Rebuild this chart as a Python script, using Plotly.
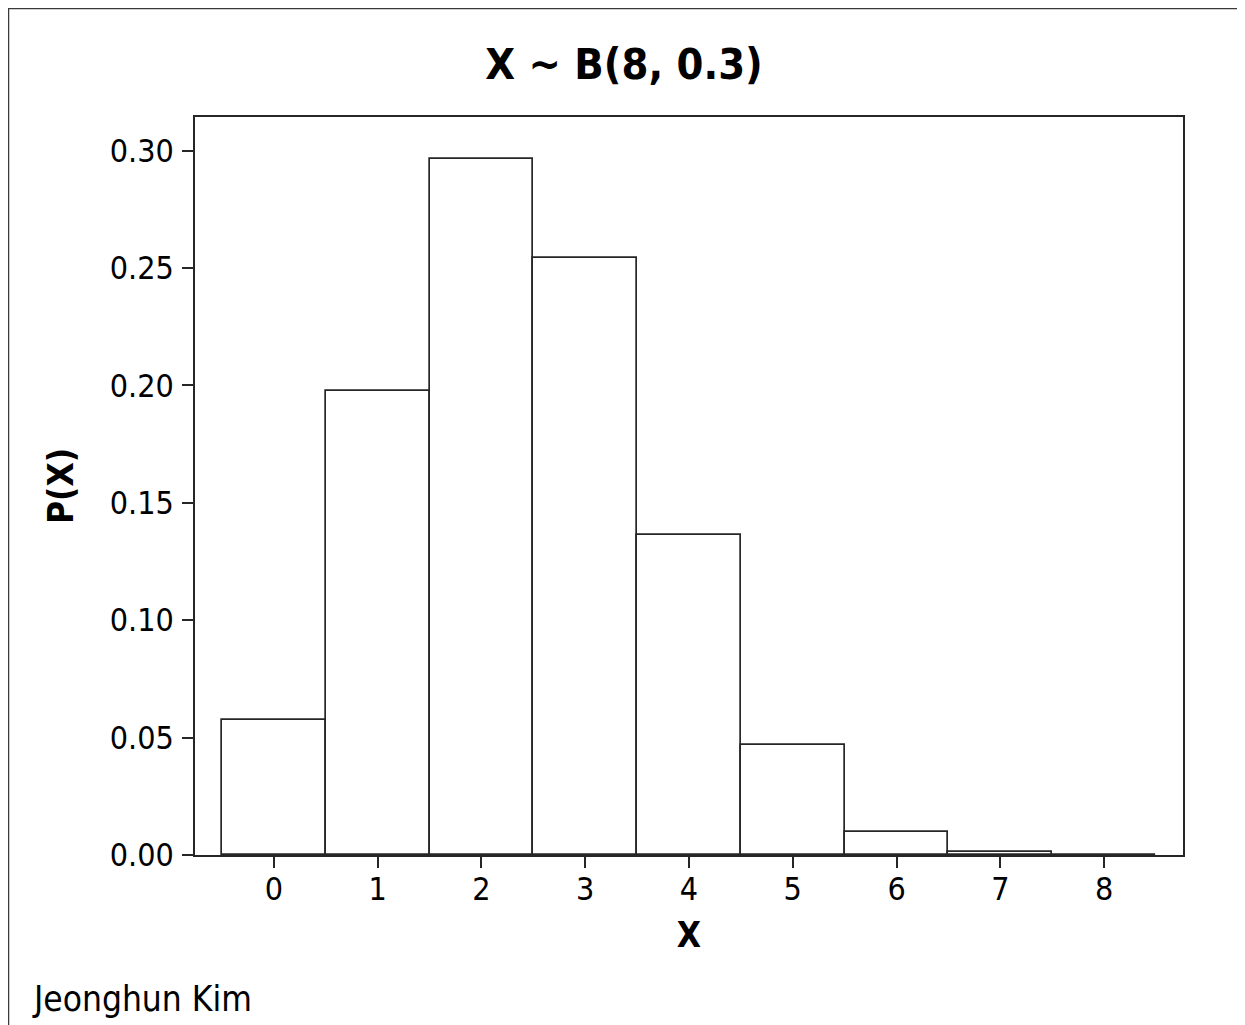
import plotly.graph_objects as go

# Data: X ~ B(8, 0.3)
x_values = [0, 1, 2, 3, 4, 5, 6, 7, 8]
probabilities = [0.0576, 0.1977, 0.2965, 0.2541, 0.1361, 0.0467, 0.0100, 0.0012, 0.0001]
y_tick_values = [0.00, 0.05, 0.10, 0.15, 0.20, 0.25, 0.30]
y_tick_labels = ["0.00", "0.05", "0.10", "0.15", "0.20", "0.25", "0.30"]
x_tick_labels = ["0", "1", "2", "3", "4", "5", "6", "7", "8"]

OFF = 8  # page body margin
W, H = 1245 - OFF, 1025 - OFF
L, T = 195 - OFF, 117 - OFF
R = W - (1183 - OFF)
B = H - (855 - OFF)
pw, ph = W - L - R, H - T - B

def px_x(px):
    return (px - OFF - L) / pw

def px_y(py):
    return (H - B - (py - OFF)) / ph

FONT = "DejaVu Sans Condensed, Verdana, DejaVu Sans, sans-serif"
LINE = "#262626"

fig = go.Figure()
fig.add_trace(go.Bar(
    x=x_values,
    y=probabilities,
    width=1.0,
    marker=dict(color="white", line=dict(color=LINE, width=1.7)),
    showlegend=False,
))

fig.update_layout(
    width=W, height=H,
    margin=dict(l=L, r=R, t=T, b=B, autoexpand=False),
    paper_bgcolor="white",
    plot_bgcolor="white",
    font=dict(family=FONT, color="black", size=32),
    title=dict(text="<b>X ~ B(8, 0.3)</b>", x=(624 - OFF) / W, xref="container", xanchor="center",
               y=1 - (64 - OFF) / H, yref="container", yanchor="middle",
               font=dict(family=FONT, size=43, color="black")),
    bargap=0,
    xaxis=dict(
        range=[-0.76, 8.76],
        tickvals=x_values, ticktext=x_tick_labels,
        ticks="outside", ticklen=11, tickwidth=1.5, tickcolor=LINE,
        ticklabelstandoff=-6,
        showline=True, linecolor=LINE, linewidth=1.7, mirror=True,
        showgrid=False, zeroline=False,
        tickfont=dict(family=FONT, size=32, color="black"),
        title=dict(text="<b>X</b>", font=dict(family=FONT, size=35, color="black"), standoff=15),
    ),
    yaxis=dict(
        range=[0, 0.3143],
        tickvals=y_tick_values, ticktext=y_tick_labels,
        ticks="outside", ticklen=11, tickwidth=1.5, tickcolor=LINE,
        ticklabelstandoff=2,
        showline=True, linecolor=LINE, linewidth=1.7, mirror=True,
        showgrid=False, zeroline=False,
        tickfont=dict(family=FONT, size=32, color="black"),
        title=dict(text="<b>P(X)</b>", font=dict(family=FONT, size=35, color="black"), standoff=25),
    ),
    shapes=[dict(
        type="rect", xref="paper", yref="paper",
        x0=px_x(8.0), x1=px_x(1270), y0=px_y(1050), y1=px_y(8.0),
        line=dict(color="#3a3a3a", width=2.5), fillcolor="rgba(0,0,0,0)", layer="below",
    )],
    annotations=[dict(
        text="Jeonghun Kim", xref="paper", yref="paper",
        x=px_x(30), y=px_y(999), xanchor="left", yanchor="middle",
        showarrow=False, font=dict(family=FONT, size=35, color="black"),
    )],
)

fig.write_html("out.html")
